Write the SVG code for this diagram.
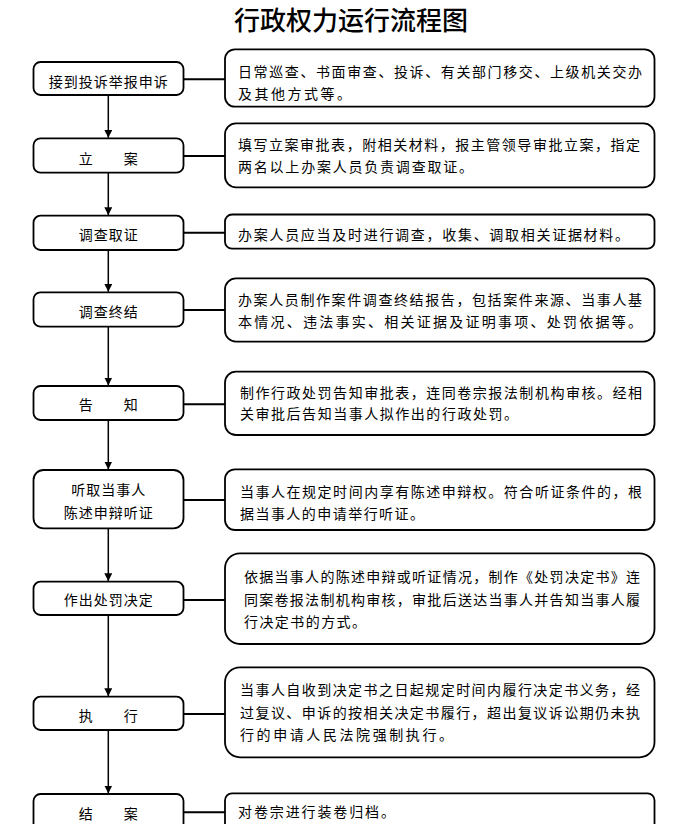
<svg xmlns="http://www.w3.org/2000/svg" width="698" height="824" viewBox="0 0 698 824">
<defs>
<style>
.bg{fill:#fff}
.box{fill:#fff;stroke:#000;stroke-width:1.8}
.t{font-family:"Noto Sans CJK SC","Noto Sans",sans-serif;font-size:14px;fill:#000}
.lt{text-anchor:middle;letter-spacing:1px}
.title{font-family:"Noto Sans CJK SC","Noto Sans",sans-serif;font-size:26px;font-weight:500;fill:#000;text-anchor:middle}
.v{stroke:#000;stroke-width:1.5;fill:none}
.h{stroke:#000;stroke-width:2;fill:none}
</style>
<marker id="arr" markerWidth="8" markerHeight="8" refX="8" refY="4" orient="auto" markerUnits="userSpaceOnUse">
<path d="M0,0 L8,4 L0,8 z" fill="#000"/>
</marker>
</defs>
<rect class="bg" x="0" y="0" width="698" height="824"/>
<text class="title" x="351" y="29.5">行政权力运行流程图</text>

<g id="connectors">
<line class="v" x1="108.3" y1="95" x2="108.3" y2="137.8" marker-end="url(#arr)"/>
<line class="v" x1="108.3" y1="172.7" x2="108.3" y2="215.2" marker-end="url(#arr)"/>
<line class="v" x1="108.3" y1="250" x2="108.3" y2="291.8" marker-end="url(#arr)"/>
<line class="v" x1="108.3" y1="326.7" x2="108.3" y2="385.5" marker-end="url(#arr)"/>
<line class="v" x1="108.3" y1="420" x2="108.3" y2="469.5" marker-end="url(#arr)"/>
<line class="v" x1="108.3" y1="528.3" x2="108.3" y2="581.2" marker-end="url(#arr)"/>
<line class="v" x1="108.3" y1="615" x2="108.3" y2="696.2" marker-end="url(#arr)"/>
<line class="v" x1="108.3" y1="730" x2="108.3" y2="793.5" marker-end="url(#arr)"/>
<line class="h" x1="183.5" y1="79.3" x2="225" y2="79.3"/>
<line class="h" x1="183.5" y1="156" x2="225" y2="156"/>
<line class="h" x1="183.5" y1="232.7" x2="225" y2="232.7"/>
<line class="h" x1="183.5" y1="310" x2="225" y2="310"/>
<line class="h" x1="183.5" y1="404.3" x2="225" y2="404.3"/>
<line class="h" x1="183.5" y1="500" x2="225" y2="500"/>
<line class="h" x1="183.5" y1="600" x2="225" y2="600"/>
<line class="h" x1="183.5" y1="714" x2="225" y2="714"/>
<line class="h" x1="183.5" y1="812.3" x2="225" y2="812.3"/>
</g>

<g id="n1"><rect class="box" x="33.5" y="62" width="150" height="33" rx="7"/><text class="t lt" x="108.8" y="87">接到投诉举报申诉</text></g>
<g id="n2"><rect class="box" x="33.5" y="138.3" width="150" height="34.4" rx="7"/><text class="t lt" x="108.8" y="163.6">立　　案</text></g>
<g id="n3"><rect class="box" x="33.5" y="215.7" width="150" height="34.3" rx="7"/><text class="t lt" x="108.8" y="240.3">调查取证</text></g>
<g id="n4"><rect class="box" x="33.5" y="292.3" width="150" height="34.4" rx="7"/><text class="t lt" x="108.8" y="317">调查终结</text></g>
<g id="n5"><rect class="box" x="33.5" y="386" width="150" height="34" rx="7"/><text class="t lt" x="108.8" y="410.3">告　　知</text></g>
<g id="n6"><rect class="box" x="33.5" y="470" width="150" height="58.3" rx="10"/><text class="t lt" x="108.8" y="495.3">听取当事人</text><text class="t lt" x="108.8" y="518">陈述申辩听证</text></g>
<g id="n7"><rect class="box" x="33.5" y="581.7" width="150" height="33.3" rx="7"/><text class="t lt" x="108.8" y="605.3">作出处罚决定</text></g>
<g id="n8"><rect class="box" x="33.5" y="696.7" width="150" height="33.3" rx="7"/><text class="t lt" x="108.8" y="721.3">执　　行</text></g>
<g id="n9"><rect class="box" x="33.5" y="794" width="150" height="40" rx="7"/><text class="t lt" x="108.8" y="818.6">结　　案</text></g>

<g id="d1"><rect class="box" x="225" y="49.3" width="429.5" height="57.4" rx="10"/>
<text class="t" x="238" y="77.3" textLength="404" lengthAdjust="spacing">日常巡查、书面审查、投诉、有关部门移交、上级机关交办</text>
<text class="t" x="238" y="99.3" textLength="113" lengthAdjust="spacing">及其他方式等。</text></g>
<g id="d2"><rect class="box" x="225" y="123.3" width="429.5" height="64" rx="11"/>
<text class="t" x="238" y="150.3" textLength="402" lengthAdjust="spacing">填写立案审批表，附相关材料，报主管领导审批立案，指定</text>
<text class="t" x="238" y="172" textLength="235" lengthAdjust="spacing">两名以上办案人员负责调查取证。</text></g>
<g id="d3"><rect class="box" x="225" y="214.5" width="429.5" height="34.2" rx="7"/>
<text class="t" x="238" y="240" textLength="391" lengthAdjust="spacing">办案人员应当及时进行调查，收集、调取相关证据材料。</text></g>
<g id="d4"><rect class="box" x="225" y="278.3" width="429.5" height="63.4" rx="11"/>
<text class="t" x="238" y="304.6" textLength="404" lengthAdjust="spacing">办案人员制作案件调查终结报告，包括案件来源、当事人基</text>
<text class="t" x="238" y="327" textLength="404" lengthAdjust="spacing">本情况、违法事实、相关证据及证明事项、处罚依据等。</text></g>
<g id="d5"><rect class="box" x="225" y="371.7" width="429.5" height="63.3" rx="11"/>
<text class="t" x="240" y="398" textLength="402" lengthAdjust="spacing">制作行政处罚告知审批表，连同卷宗报法制机构审核。经相</text>
<text class="t" x="240" y="419.3" textLength="278" lengthAdjust="spacing">关审批后告知当事人拟作出的行政处罚。</text></g>
<g id="d6"><rect class="box" x="225" y="469.3" width="429.5" height="60.7" rx="10"/>
<text class="t" x="240" y="497" textLength="402" lengthAdjust="spacing">当事人在规定时间内享有陈述申辩权。符合听证条件的，根</text>
<text class="t" x="240" y="518.6" textLength="184" lengthAdjust="spacing">据当事人的申请举行听证。</text></g>
<g id="d7"><rect class="box" x="225" y="553.3" width="429.5" height="90.7" rx="15"/>
<text class="t" x="244" y="582" textLength="396" lengthAdjust="spacing">依据当事人的陈述申辩或听证情况，制作《处罚决定书》连</text>
<text class="t" x="244" y="605.3" textLength="396" lengthAdjust="spacing">同案卷报法制机构审核，审批后送达当事人并告知当事人履</text>
<text class="t" x="244" y="627" textLength="122" lengthAdjust="spacing">行决定书的方式。</text></g>
<g id="d8"><rect class="box" x="225" y="667.3" width="429.5" height="90" rx="15"/>
<text class="t" x="240" y="695.3" textLength="400" lengthAdjust="spacing">当事人自收到决定书之日起规定时间内履行决定书义务，经</text>
<text class="t" x="240" y="718.3" textLength="400" lengthAdjust="spacing">过复议、申诉的按相关决定书履行，超出复议诉讼期仍未执</text>
<text class="t" x="240" y="740.3" textLength="213" lengthAdjust="spacing">行的申请人民法院强制执行。</text></g>
<g id="d9"><rect class="box" x="225" y="793.3" width="429.5" height="40" rx="7"/>
<text class="t" x="238" y="817" textLength="157" lengthAdjust="spacing">对卷宗进行装卷归档。</text></g>
</svg>
